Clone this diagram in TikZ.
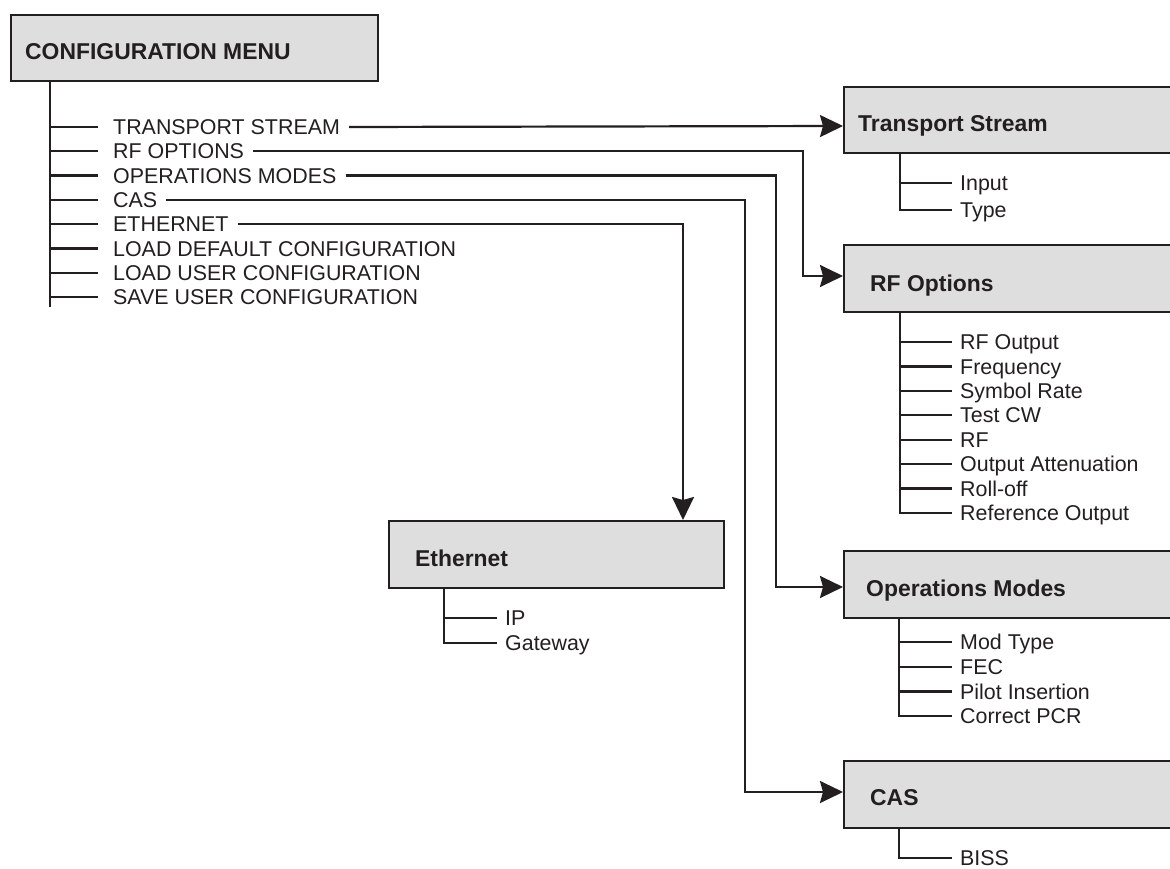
\documentclass[tikz,border=0pt]{standalone}
\usepackage{fontspec}
\setmainfont{Liberation Sans}
\usetikzlibrary{arrows.meta,calc}
\definecolor{ink}{HTML}{231F20}
\definecolor{boxfill}{HTML}{DEDEDE}
\begin{document}
\begin{tikzpicture}[x=1pt,y=-1pt,
  box/.style={draw=ink, fill=boxfill, line width=2.2pt, rectangle, inner sep=0pt, anchor=north west},
  title/.style={font=\fontsize{22.9}{27}\selectfont\bfseries, text=ink, inner sep=0pt, anchor=base west},
  item/.style={font=\fontsize{21.4}{25}\selectfont, text=ink, inner sep=0pt, anchor=base west},
  ln/.style={draw=ink, line width=2.2pt},
  arr/.style={ln, -{Stealth[length=23pt,width=22pt,inset=3pt]}}]
\useasboundingbox (0,0) rectangle (1170,869);
\clip (0,0) rectangle (1170,869);
\fill[white] (0,0) rectangle (1170,869);

% boxes
\node[box, minimum width=367pt, minimum height=66pt] (cfg) at (10,14) {};
\node[box, minimum width=340pt, minimum height=66pt] (ts) at (843,86) {};
\node[box, minimum width=340pt, minimum height=67pt] (rf) at (843,244) {};
\node[box, minimum width=340pt, minimum height=67pt] (om) at (843,550) {};
\node[box, minimum width=340pt, minimum height=67pt] (cas) at (843,760) {};
\node[box, minimum width=335pt, minimum height=67pt] (eth) at (388,520) {};

% titles
\node[title] (cfgT) at (25,59.2) {CONFIGURATION MENU};
\node[title] (tsT) at (858,131.7) {Transport Stream};
\node[title] (rfT) at (870,291.7) {RF Options};
\node[title] (omT) at (866,596.7) {Operations Modes};
\node[title] (casT) at (870,805) {CAS};
\node[title] (ethT) at (415,566.7) {Ethernet};

% main menu items
\foreach \t [count=\i] in {TRANSPORT STREAM, RF OPTIONS, OPERATIONS MODES, CAS, ETHERNET, LOAD DEFAULT CONFIGURATION, LOAD USER CONFIGURATION, SAVE USER CONFIGURATION}
  \node[item] (m\i) at (113,127+24.3*\i-24.3+7.7) {\t};
\coordinate (cend) at (50,307);
\draw[ln] (cfg.south -| cend) -- (cend);
\foreach \i in {1,...,8}
  \draw[ln] (m\i.base west) ++(-15,-7.7) -- ++(-48,0);

% connectors
\foreach \i in {1,...,5}
  \path (m\i.base east) ++(9,-7.7) coordinate (s\i);
\coordinate (k2) at (803,276);
\coordinate (k3) at (776,587);
\coordinate (k4) at (745,792);
\coordinate (k5) at (683,0);
\coordinate (k1) at (0,126);
\draw[arr] (s1) -- (k1 -| ts.west);
\draw[arr] (s2) -| (k2) -- (k2 -| rf.west);
\draw[arr] (s3) -| (k3) -- (k3 -| om.west);
\draw[arr] (s4) -| (k4) -- (k4 -| cas.west);
\draw[arr] (s5) -| (k5 |- eth.north);

% Transport Stream subtree
\coordinate (vts) at (900,0);
\foreach \t/\yy [count=\i] in {Input/183, Type/210}
  \node[item] (ts\i) at (960,\yy+7.7) {\t};
\path (ts2.base west) ++(-8,-7.7) coordinate (tsl);
\draw[ln] (ts.south -| vts) |- (tsl);
\foreach \i in {1,2}
  \draw[ln] (ts\i.base west) ++(-8,-7.7) -- ++(-52,0);

% RF Options subtree
\coordinate (vrf) at (900,0);
\foreach \t [count=\i] in {RF Output, Frequency, Symbol Rate, Test CW, RF, Output Attenuation, Roll-off, Reference Output}
  \node[item] (rf\i) at (960,342+24.4*\i-24.4+7.7) {\t};
\path (rf8.base west) ++(-8,-7.7) coordinate (rfl);
\draw[ln] (rf.south -| vrf) |- (rfl);
\foreach \i in {1,...,8}
  \draw[ln] (rf\i.base west) ++(-8,-7.7) -- ++(-52,0);

% Operations Modes subtree
\coordinate (vom) at (899,0);
\foreach \t [count=\i] in {Mod Type, FEC, Pilot Insertion, Correct PCR}
  \node[item] (om\i) at (960,642+24.7*\i-24.7+7.7) {\t};
\path (om4.base west) ++(-8,-7.7) coordinate (oml);
\draw[ln] (om.south -| vom) |- (oml);
\foreach \i in {1,...,4}
  \draw[ln] (om\i.base west) ++(-8,-7.7) -- ++(-53,0);

% CAS subtree
\coordinate (vcas) at (899,0);
\node[item] (cas1) at (960,858+7.7) {BISS};
\path (cas1.base west) ++(-8,-7.7) coordinate (casl);
\draw[ln] (cas.south -| vcas) |- (casl);

% Ethernet subtree
\coordinate (veth) at (444,0);
\foreach \t/\yy [count=\i] in {IP/618, Gateway/643}
  \node[item] (eth\i) at (505,\yy+7.7) {\t};
\path (eth2.base west) ++(-8,-7.7) coordinate (ethl);
\draw[ln] (eth.south -| veth) |- (ethl);
\foreach \i in {1,2}
  \draw[ln] (eth\i.base west) ++(-8,-7.7) -- ++(-53,0);
\end{tikzpicture}
\end{document}
